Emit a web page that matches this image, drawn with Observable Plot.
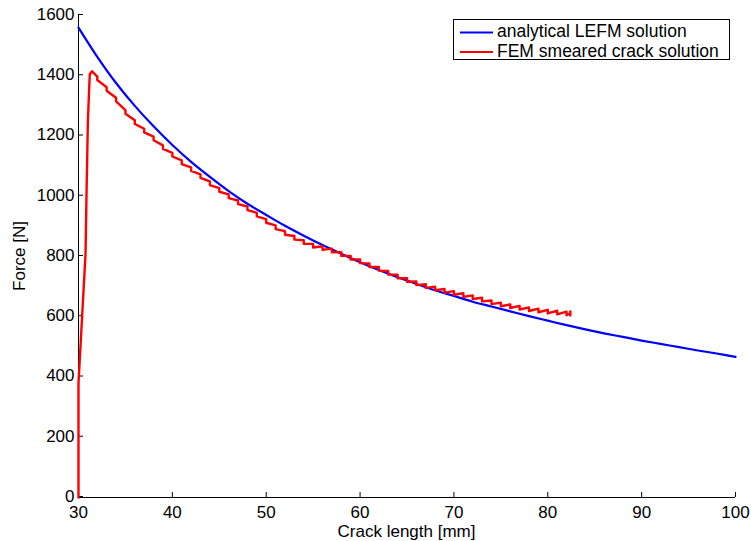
<!DOCTYPE html>
<html><head><meta charset="utf-8">
<script src="https://cdn.jsdelivr.net/npm/d3@7"></script>
<script src="https://cdn.jsdelivr.net/npm/@observablehq/plot@0.6"></script>
<style>
body{margin:0;background:#fff;}
#chart{position:relative;width:751px;height:541px;}
</style>
</head><body><div id="chart"></div>
<script>
// ---- data ----
const xTicks = [30, 40, 50, 60, 70, 80, 90, 100];
const yTicks = [0, 200, 400, 600, 800, 1000, 1200, 1400, 1600];
const xLabel = "Crack length [mm]";
const yLabel = "Force [N]";
const seriesNames = ["analytical LEFM solution", "FEM smeared crack solution"];
const seriesColors = ["#0000ff", "#ff0000"];

// analytical LEFM solution
const lefmX = [30,32,34,36,38,40,42,44,46,48,50,52,54,56,58,60,62,64,66,68,70,72,74,76,78,80,82,84,86,88,90,92,94,96,98,100];
const lefmF = [1560,1463,1376,1300,1232,1170,1114,1064,1017,975,938,902,869,838,809,781,755,731,709,688,669,650,634,618,602,587,572,558,545,533,521,510,499,488,478,467];

// FEM smeared crack solution: initial loading branch
const femRampX = [30, 30, 30.75, 30.85, 31.0, 31.2, 31.45, 31.6, 31.9];
const femRampF = [0, 380, 810, 1000, 1250, 1405, 1415, 1410, 1400];
// FEM softening branch: saw teeth (value before and after each drop)
const femToothX = [32,33,34,35,36,37,38,39,40,41,42,43,44,45,46,47,48,49,50,51,52,53,54,55,56,57,58,59,60,61,62,63,64,65,66,67,68,69,70,71,72,73,74,75,76,77,78,79,80,81,82];
const femToothHigh = [1398,1362,1327,1286,1252,1224,1198,1169,1144,1119,1096,1073,1049,1027,1006,986,966,945,924,903,884,868,854,842,834,826,814,802,790,777,765,752,740,728,717,708,700,692,685,678,671,663,654,647,641,636,631,627,623,620,617];
const femToothLow  = [1386,1350,1315,1274,1240,1212,1186,1157,1132,1107,1084,1061,1037,1015,994,974,954,933,912,891,872,856,842,830,822,814,802,790,778,765,753,740,728,716,705,696,688,680,673,666,659,651,642,635,629,624,619,615,611,608,605];
// FEM end
const femEndX = [82.4, 82.4, 82.4];
const femEndF = [612, 618, 604];

// ---- tables ----
const lefm = lefmX.map((x, i) => ({x, y: lefmF[i]}));
const fem = [];
femRampX.forEach((x, i) => fem.push({x, y: femRampF[i]}));
femToothX.forEach((x, i) => { fem.push({x, y: femToothHigh[i]}); fem.push({x, y: femToothLow[i]}); });
femEndX.forEach((x, i) => fem.push({x, y: femEndF[i]}));

const FONT = "'Liberation Sans', Arial, Helvetica, sans-serif";

const plot = Plot.plot({
  width: 751, height: 541,
  marginLeft: 78, marginRight: 16, marginTop: 15, marginBottom: 44,
  x: {domain: [30, 100]},
  y: {domain: [0, 1600]},
  style: {fontFamily: FONT, fontSize: "17px", color: "#000", background: "#fff", overflow: "visible"},
  marks: [
    Plot.ruleX([30], {stroke: "#000", strokeWidth: 1}),
    Plot.ruleY([0], {stroke: "#000", strokeWidth: 1}),
    Plot.axisX({ticks: xTicks, tickSize: -5, tickPadding: 13, label: null, tickFormat: d => String(d), fontSize: 17}),
    Plot.axisY({ticks: yTicks, tickSize: -5, tickPadding: 9, label: null, tickFormat: d => String(d), fontSize: 17, dy: -1}),
    Plot.line(lefm, {x: "x", y: "y", stroke: seriesColors[0], strokeWidth: 2.2, curve: "catmull-rom"}),
    Plot.line(fem, {x: "x", y: "y", stroke: seriesColors[1], strokeWidth: 2.4, strokeLinejoin: "round"})
  ]
});
document.getElementById("chart").appendChild(plot);

const svg = d3.select(plot);
const sx = plot.scale("x"), sy = plot.scale("y");
const cx = (sx.apply(30) + sx.apply(100)) / 2;
const cy = (sy.apply(0) + sy.apply(1600)) / 2;
svg.append("text").attr("x", cx).attr("y", 533).attr("text-anchor", "middle")
  .attr("dominant-baseline", "middle").style("font-family", FONT).style("font-size", "17px").text(xLabel);
svg.append("text").attr("transform", `translate(21,${cy}) rotate(-90)`).attr("text-anchor", "middle")
  .attr("dominant-baseline", "middle").style("font-family", FONT).style("font-size", "17px").text(yLabel);

// legend
const lg = svg.append("g");
lg.append("rect").attr("x", 453.5).attr("y", 19.5).attr("width", 276).attr("height", 40)
  .attr("fill", "#fff").attr("stroke", "#000").attr("stroke-width", 1);
seriesNames.forEach((name, i) => {
  const yy = 32.5 + i * 19.5;
  lg.append("line").attr("x1", 460).attr("x2", 493).attr("y1", yy).attr("y2", yy)
    .attr("stroke", seriesColors[i]).attr("stroke-width", 2);
  lg.append("text").attr("x", 497).attr("y", yy).attr("text-anchor", "start").attr("dominant-baseline", "middle")
    .style("font-family", FONT).style("font-size", "17.5px").text(name);
});
</script>
</body></html>
